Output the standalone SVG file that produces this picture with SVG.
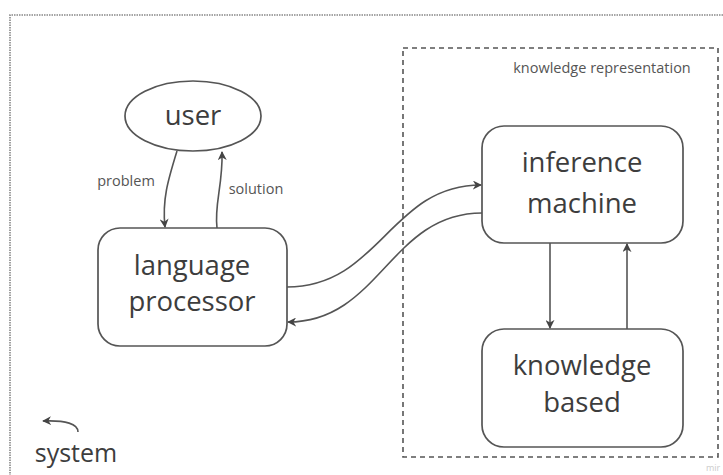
<svg xmlns="http://www.w3.org/2000/svg" width="723" height="475" viewBox="0 0 723 475">
<defs>
<style>
.node{fill:#fff;stroke:#555;stroke-width:1.7}
.t{font-family:"Open Sans","Liberation Sans",sans-serif;fill:#3d3d3d;text-anchor:middle}
.big{font-size:27.5px}
.lbl{font-size:14.5px;fill:#555}
.conn{fill:none;stroke:#555;stroke-width:1.6}
</style>
<marker id="ah" viewBox="0 0 10 10" refX="9" refY="5" markerWidth="9" markerHeight="9" markerUnits="userSpaceOnUse" orient="auto">
<path d="M0,0 L10,5 L0,10 L3,5 Z" fill="#444"/>
</marker>
</defs>
<rect width="723" height="475" fill="#fff"/>
<g id="frame">
<path d="M723 15 L10 15 L10 475" fill="none" stroke="#888" stroke-width="1.6" stroke-dasharray="1.5 1"/>
</g>
<g id="knowledge-representation">
<rect x="403" y="48" width="315" height="409" fill="none" stroke="#555" stroke-width="1.6" stroke-dasharray="5 4"/>
<text class="t lbl" x="602" y="73">knowledge representation</text>
</g>
<g id="user">
<ellipse class="node" cx="193" cy="116" rx="68" ry="35"/>
<text class="t big" x="193" y="125">user</text>
</g>
<g id="language-processor">
<rect class="node" x="98" y="228" width="189" height="118" rx="22"/>
<text class="t big" x="192" y="275">language</text>
<text class="t big" x="192" y="311">processor</text>
</g>
<g id="inference-machine">
<rect class="node" x="482" y="126" width="201" height="117" rx="22"/>
<text class="t big" x="582" y="172">inference</text>
<text class="t big" x="582" y="213">machine</text>
</g>
<g id="knowledge-based">
<rect class="node" x="482" y="329" width="201" height="118" rx="22"/>
<text class="t big" x="582" y="375">knowledge</text>
<text class="t big" x="582" y="412">based</text>
</g>
<g id="connectors">
<path class="conn" d="M177 151 C168 180 162 200 165 227" marker-end="url(#ah)"/>
<path class="conn" d="M217 228 C214 205 223 185 222 152" marker-end="url(#ah)"/>
<path class="conn" d="M287 287 C380 287 390 185 481 185" marker-end="url(#ah)"/>
<path class="conn" d="M482 213 C390 213 380 322 288 322" marker-end="url(#ah)"/>
<path class="conn" d="M550 243 L550 328" marker-end="url(#ah)"/>
<path class="conn" d="M627 329 L627 244" marker-end="url(#ah)"/>
<text class="t lbl" x="126" y="186">problem</text>
<text class="t lbl" x="256" y="194">solution</text>
</g>
<g id="system">
<path class="conn" d="M78 432 C78 424 66 420 43 421" marker-end="url(#ah)"/>
<text class="t" x="76" y="462" font-size="25">system</text>
</g>
<text x="706" y="471" font-family="Open Sans, Liberation Sans, sans-serif" font-size="9" fill="#ccc">mir</text>
</svg>
